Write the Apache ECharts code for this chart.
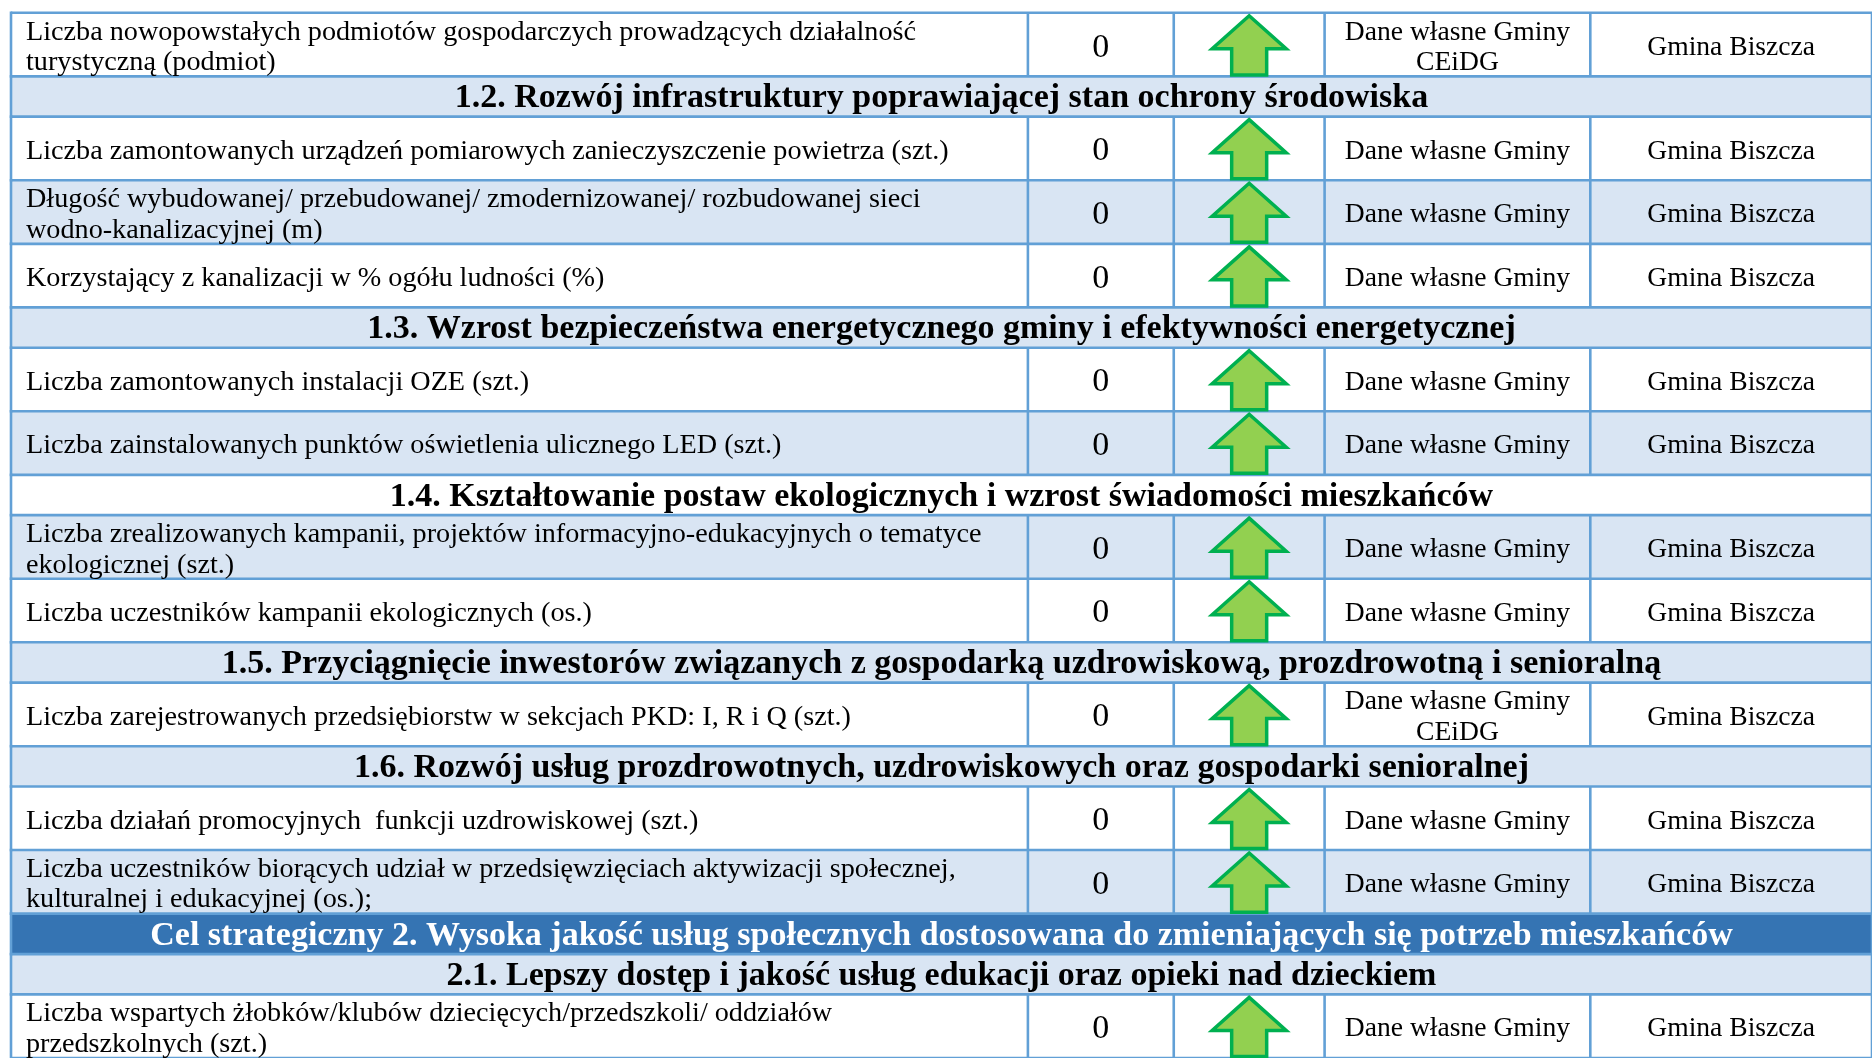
<!DOCTYPE html>
<html>
<head>
<meta charset="utf-8">
<script src="https://cdn.jsdelivr.net/npm/echarts@6/dist/echarts.min.js"></script>
<style>
html,body{margin:0;padding:0;background:#ffffff;}
#chart{width:1872px;height:1058px;}
</style>
</head>
<body>
<div id="chart"></div>
<script>
// ---------- DATA ----------
const rowKinds = [
  'data', 'section', 'data', 'data', 'data', 'section', 'data', 'data', 'section',
  'data', 'data', 'section', 'data', 'section', 'data', 'data', 'goal', 'section', 'data'
];
const indicatorTexts = [
  'Liczba nowopowstałych podmiotów gospodarczych prowadzących działalność\nturystyczną (podmiot)',
  '1.2. Rozwój infrastruktury poprawiającej stan ochrony środowiska',
  'Liczba zamontowanych urządzeń pomiarowych zanieczyszczenie powietrza (szt.)',
  'Długość wybudowanej/ przebudowanej/ zmodernizowanej/ rozbudowanej sieci\nwodno-kanalizacyjnej (m)',
  'Korzystający z kanalizacji w % ogółu ludności (%)',
  '1.3. Wzrost bezpieczeństwa energetycznego gminy i efektywności energetycznej',
  'Liczba zamontowanych instalacji OZE (szt.)',
  'Liczba zainstalowanych punktów oświetlenia ulicznego LED (szt.)',
  '1.4. Kształtowanie postaw ekologicznych i wzrost świadomości mieszkańców',
  'Liczba zrealizowanych kampanii, projektów informacyjno-edukacyjnych o tematyce\nekologicznej (szt.)',
  'Liczba uczestników kampanii ekologicznych (os.)',
  '1.5. Przyciągnięcie inwestorów związanych z gospodarką uzdrowiskową, prozdrowotną i senioralną',
  'Liczba zarejestrowanych przedsiębiorstw w sekcjach PKD: I, R i Q (szt.)',
  '1.6. Rozwój usług prozdrowotnych, uzdrowiskowych oraz gospodarki senioralnej',
  'Liczba działań promocyjnych  funkcji uzdrowiskowej (szt.)',
  'Liczba uczestników biorących udział w przedsięwzięciach aktywizacji społecznej,\nkulturalnej i edukacyjnej (os.);',
  'Cel strategiczny 2. Wysoka jakość usług społecznych dostosowana do zmieniających się potrzeb mieszkańców',
  '2.1. Lepszy dostęp i jakość usług edukacji oraz opieki nad dzieckiem',
  'Liczba wspartych żłobków/klubów dziecięcych/przedszkoli/ oddziałów\nprzedszkolnych (szt.)'
];
const baseValues = [0, null, 0, 0, 0, null, 0, 0, null, 0, 0, null, 0, null, 0, 0, null, null, 0];
const trendDirections = ['up', null, 'up', 'up', 'up', null, 'up', 'up', null, 'up', 'up', null, 'up', null, 'up', 'up', null, null, 'up'];
const dataSources = [
  'Dane własne Gminy\nCEiDG', null, 'Dane własne Gminy', 'Dane własne Gminy', 'Dane własne Gminy', null,
  'Dane własne Gminy', 'Dane własne Gminy', null, 'Dane własne Gminy', 'Dane własne Gminy', null,
  'Dane własne Gminy\nCEiDG', null, 'Dane własne Gminy', 'Dane własne Gminy', null, null, 'Dane własne Gminy'
];
const responsibleUnits = [
  'Gmina Biszcza', null, 'Gmina Biszcza', 'Gmina Biszcza', 'Gmina Biszcza', null,
  'Gmina Biszcza', 'Gmina Biszcza', null, 'Gmina Biszcza', 'Gmina Biszcza', null,
  'Gmina Biszcza', null, 'Gmina Biszcza', 'Gmina Biszcza', null, null, 'Gmina Biszcza'
];

// ---------- LAYOUT / STYLE ----------
const ROW_HEIGHT = { data: 63.6, section: 40.3, goal: 40.5 };
const COL_WIDTHS = [1018, 146, 151, 266, 282];
const COLORS = {
  border: '#62A0D6', light: '#D9E5F3', white: '#FFFFFF', goal: '#3574B3',
  text: '#000000', arrowFill: '#92D050', arrowStroke: '#00B050'
};
const FONT_FAMILY = '"Liberation Serif", "DejaVu Serif", serif';
const TEXT_SHIFT = 3;

const colEdges = [0];
COL_WIDTHS.forEach(w => colEdges.push(colEdges[colEdges.length - 1] + w));
const totalWidth = colEdges[colEdges.length - 1];
const rowTops = [];
let acc = 0;
rowKinds.forEach(k => { rowTops.push(acc); acc += ROW_HEIGHT[k]; });
const totalHeight = acc;

const seriesData = rowKinds.map((k, i) => [i, rowTops[i], rowTops[i] + ROW_HEIGHT[k]]);

function rectOf(api, x0, x1, y0, y1) {
  const a = api.coord([x0, y0]);
  const b = api.coord([x1, y1]);
  return { x: a[0], y: a[1], width: b[0] - a[0], height: b[1] - a[1] };
}

function textEl(x, y, text, font, align, fill, lh) {
  return {
    type: 'text',
    style: {
      text: text, x: x, y: y, font: font, fill: fill || COLORS.text,
      align: align, verticalAlign: 'middle',
      textAlign: align, textVerticalAlign: 'middle', lineHeight: lh || 30.5
    }
  };
}

function renderBackground(params, api) {
  const i = api.value(0);
  const r = rectOf(api, 0, totalWidth, api.value(1), api.value(2));
  let fill = (i % 2 === 0) ? COLORS.white : COLORS.light;
  if (rowKinds[i] === 'goal') fill = COLORS.goal;
  return { type: 'rect', shape: r, style: { fill: fill } };
}

function renderLines(params, api) {
  const i = api.value(0);
  const y0 = api.value(1), y1 = api.value(2);
  const children = [];
  const lineStyle = { stroke: COLORS.border, lineWidth: 2.6 };
  const pTL = api.coord([0, y0]);
  const pTR = api.coord([totalWidth, y0]);
  const pBL = api.coord([0, y1]);
  children.push({ type: 'line', shape: { x1: pTL[0], y1: pTL[1], x2: pTR[0], y2: pTR[1] }, style: lineStyle });
  if (i === rowKinds.length - 1) {
    children.push({ type: 'line', shape: { x1: pBL[0], y1: pBL[1], x2: pTR[0], y2: pBL[1] }, style: lineStyle });
  }
  children.push({ type: 'line', shape: { x1: pTL[0], y1: pTL[1] - 1.3, x2: pBL[0], y2: pBL[1] + 1.3 }, style: lineStyle });
  if (rowKinds[i] === 'data') {
    for (let c = 1; c < colEdges.length; c++) {
      const a = api.coord([colEdges[c], y0]);
      const b = api.coord([colEdges[c], y1]);
      children.push({ type: 'line', shape: { x1: a[0], y1: a[1], x2: b[0], y2: b[1] }, style: lineStyle });
    }
  } else {
    const a = api.coord([totalWidth, y0]);
    const b = api.coord([totalWidth, y1]);
    children.push({ type: 'line', shape: { x1: a[0], y1: a[1], x2: b[0], y2: b[1] }, style: lineStyle });
  }
  return { type: 'group', children: children };
}

function renderContent(params, api) {
  const i = api.value(0);
  const y0 = api.value(1), y1 = api.value(2);
  const kind = rowKinds[i];
  const children = [];
  if (kind !== 'data') {
    const r = rectOf(api, 0, totalWidth, y0, y1);
    children.push(textEl(r.x + r.width / 2, r.y + r.height / 2 + 2, indicatorTexts[i],
      'bold 34px ' + FONT_FAMILY, 'center', kind === 'goal' ? '#FFFFFF' : COLORS.text, 36));
    return { type: 'group', children: children };
  }
  const c0 = rectOf(api, colEdges[0], colEdges[1], y0, y1);
  const c1 = rectOf(api, colEdges[1], colEdges[2], y0, y1);
  const c2 = rectOf(api, colEdges[2], colEdges[3], y0, y1);
  const c3 = rectOf(api, colEdges[3], colEdges[4], y0, y1);
  const c4 = rectOf(api, colEdges[4], colEdges[5], y0, y1);
  const cy = c0.y + c0.height / 2 + TEXT_SHIFT;
  children.push(textEl(c0.x + 15, cy, indicatorTexts[i], '28.2px ' + FONT_FAMILY, 'left'));
  children.push(textEl(c1.x + c1.width / 2, cy, String(baseValues[i]), '34px ' + FONT_FAMILY, 'center'));
  children.push(textEl(c3.x + c3.width / 2, cy, dataSources[i], '27.6px ' + FONT_FAMILY, 'center'));
  children.push(textEl(c4.x + c4.width / 2, cy, responsibleUnits[i], '27.6px ' + FONT_FAMILY, 'center'));
  if (trendDirections[i] === 'up') {
    const cx = c2.x + c2.width / 2;
    const top = c2.y + 3;
    const bottom = c2.y + c2.height - 1.5;
    const headBase = top + 33;
    const hw = 37, sw = 17.5;
    children.push({
      type: 'polygon',
      shape: { points: [
        [cx, top], [cx + hw, headBase], [cx + sw, headBase], [cx + sw, bottom],
        [cx - sw, bottom], [cx - sw, headBase], [cx - hw, headBase]
      ] },
      style: { fill: COLORS.arrowFill, stroke: COLORS.arrowStroke, lineWidth: 3.5, lineJoin: 'miter' }
    });
  }
  return { type: 'group', children: children };
}

const chart = echarts.init(document.getElementById('chart'), null, { renderer: 'canvas' });
chart.setOption({
  backgroundColor: '#ffffff',
  animation: false,
  grid: { left: 11, top: 12.8, width: totalWidth, height: totalHeight },
  xAxis: { type: 'value', min: 0, max: totalWidth, show: false },
  yAxis: { type: 'value', min: 0, max: totalHeight, inverse: true, show: false },
  series: [
    { type: 'custom', z: 1, clip: false, data: seriesData, renderItem: renderBackground, silent: true },
    { type: 'custom', z: 2, clip: false, data: seriesData, renderItem: renderLines, silent: true },
    { type: 'custom', z: 3, clip: false, data: seriesData, renderItem: renderContent, silent: true }
  ]
});
</script>
</body>
</html>
